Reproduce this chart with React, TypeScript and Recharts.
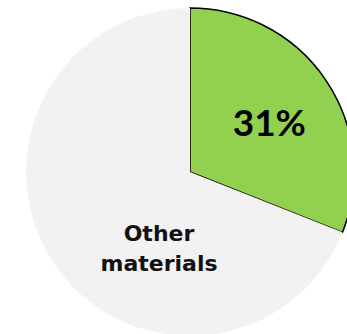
import { PieChart, Pie, Cell } from 'recharts'

const categories = ['Target material', 'Other materials']
const shares = [31, 69]
const sliceColors = ['#92D050', '#F2F2F2']
const sliceStrokes = ['#000000', 'none']

const data = categories.map((name, i) => ({ name, value: shares[i] }))

const FONT = 'Lato, "Open Sans", sans-serif'
const WIDE_FONT = '"DejaVu Sans", sans-serif'

const RADIAN = Math.PI / 180

function renderLabel(props: any) {
  const { cx, cy, midAngle, outerRadius, index, value } = props
  if (index === 0) {
    const r = outerRadius * 0.57
    const x = cx + r * Math.cos(-midAngle * RADIAN)
    const y = cy + r * Math.sin(-midAngle * RADIAN)
    return (
      <text x={x + 2} y={y + 17} textAnchor="middle"
        fontFamily={FONT} fontWeight={700} fontSize={37} fill="#000">
        {value}%
      </text>
    )
  }
  const x = cx - 31
  const y = cy + 69
  return (
    <text x={x} y={y} textAnchor="middle" fontFamily={WIDE_FONT} fontWeight={700} fontSize={22} fill="#111">
      <tspan x={x} dy={0}>Other</tspan>
      <tspan x={x} dy={30}>materials</tspan>
    </text>
  )
}

export default function App() {
  return (
    <div style={{ position: 'fixed', left: 0, top: 0, width: 347, height: 334, background: '#fff' }}>
      <PieChart width={347} height={334} margin={{ top: 0, right: 0, bottom: 0, left: 0 }}>
        <Pie
          data={data}
          dataKey="value"
          nameKey="name"
          cx={190}
          cy={172}
          outerRadius={164}
          startAngle={90}
          endAngle={-270}
          label={renderLabel}
          labelLine={false}
          isAnimationActive={false}
        >
          {data.map((d, i) => (
            <Cell key={d.name} fill={sliceColors[i]} stroke={sliceStrokes[i]} strokeWidth={i === 0 ? 1.5 : 0} />
          ))}
        </Pie>
      </PieChart>
    </div>
  )
}
